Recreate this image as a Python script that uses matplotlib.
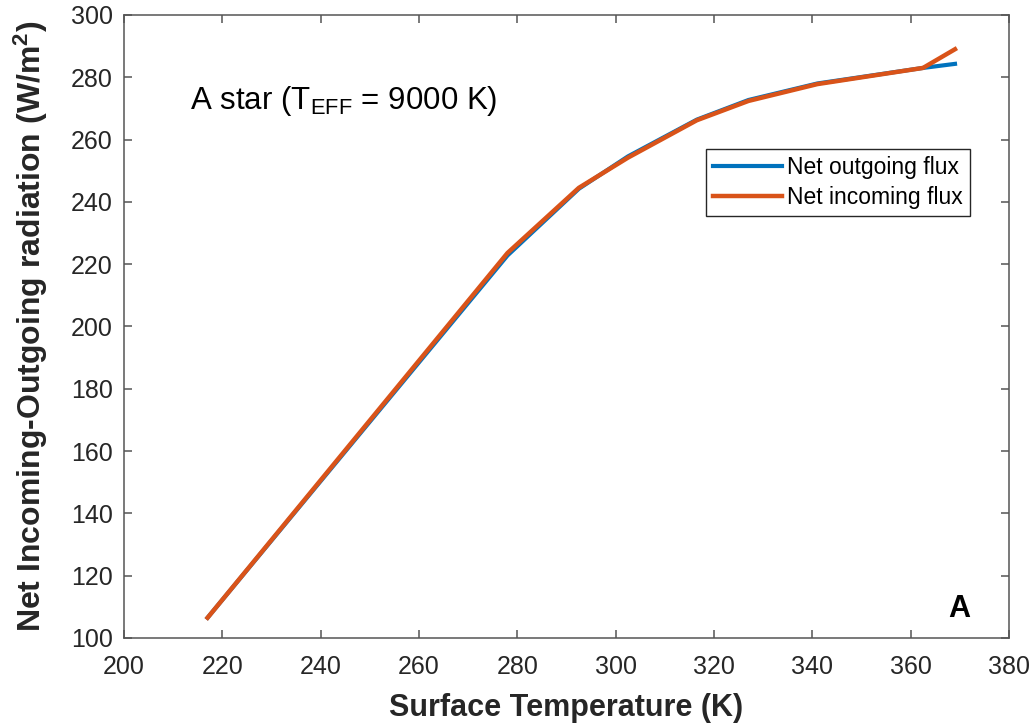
import matplotlib
matplotlib.use("Agg")
import matplotlib.pyplot as plt

plt.rcParams['font.family'] = ['Liberation Sans', 'DejaVu Sans']
plt.rcParams['mathtext.fontset'] = 'custom'
plt.rcParams['mathtext.rm'] = 'Liberation Sans'
plt.rcParams['mathtext.bf'] = 'Liberation Sans:bold'

# surface temperature (K)
temp = [217, 278, 292.5, 302.5, 316.5, 327, 341, 362.5, 369]
# flux values (W/m2)
outgoing = [106.5, 222.8, 244.2, 254.6, 266.4, 272.7, 278.0, 283.0, 284.3]
incoming = [106.5, 223.6, 244.5, 254.2, 266.2, 272.4, 277.8, 283.0, 289.0]

blue = '#0072BD'
orange = '#D95319'
axcol = '#262626'
spcol = '#555555'

fig = plt.figure(figsize=(10.34, 7.23), dpi=100)
ax = fig.add_axes([0.1199, 0.1176, 0.856, 0.8617])

p1, = ax.plot(temp, outgoing, color=blue, lw=3.0, label='Net outgoing flux')
p2, = ax.plot(temp, incoming, color=orange, lw=3.2, label='Net incoming flux')

ax.set_xlim(200, 380)
ax.set_ylim(100, 300)
ax.set_xticks(range(200, 381, 20))
ax.set_yticks(range(100, 301, 20))

for sp in ax.spines.values():
    sp.set_color(spcol)
    sp.set_linewidth(1.1)
ax.tick_params(direction='in', top=True, right=True, length=6, width=1.1,
               colors=spcol, labelsize=18, labelcolor=axcol)
ax.tick_params(axis='x', pad=12)
ax.tick_params(axis='y', pad=8)

ax.set_xlabel('Surface Temperature (K)', fontsize=22, fontweight='bold',
              color=axcol, labelpad=10)
ax.set_ylabel(r'Net Incoming-Outgoing radiation (W/m$\mathbf{^2}$)',
              fontsize=23, fontweight='bold', color=axcol, labelpad=15)

ax.text(0.0746, 0.849, r'A star (T$_{\rm EFF}$ = 9000 K)', transform=ax.transAxes,
        fontsize=22.5, color='black', va='baseline')
ax.text(0.931, 0.0337, 'A', transform=ax.transAxes, fontsize=22,
        fontweight='bold', color='black', ha='left', va='baseline')

leg = ax.legend(handles=[p1, p2], loc='upper left',
                bbox_to_anchor=(0.6576, 0.785), borderaxespad=0,
                fontsize=16.5, frameon=True,
                fancybox=False, edgecolor=axcol, framealpha=1,
                handlelength=3.0, handletextpad=0.25, borderpad=0.3,
                labelspacing=0.3)
leg.get_frame().set_linewidth(1.0)

fig.savefig('out.png', dpi=100)
